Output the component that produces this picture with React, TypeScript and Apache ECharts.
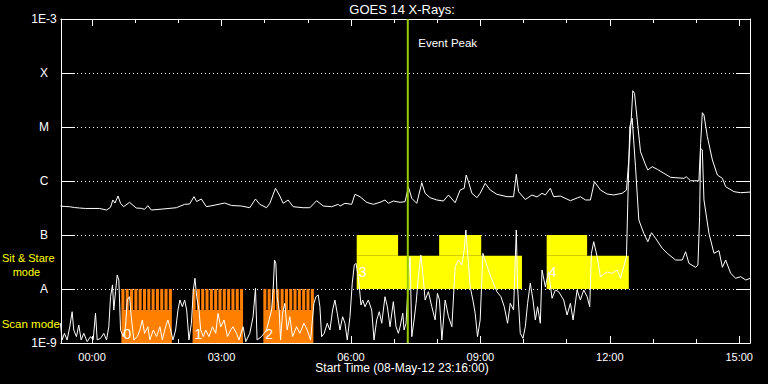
import React, { useEffect, useRef } from 'react';
import * as echarts from 'echarts';

// ---------- data (hours from 09-May-12 00:00, flux in W/m^2) ----------
const xMin = -0.72;
const xMax = 15.25;
const yMin = 1e-9;
const yMax = 1e-3;

const xMajorHours = [0, 3, 6, 9, 12, 15];
const xMajorLabels = ['00:00', '03:00', '06:00', '09:00', '12:00', '15:00'];
const xMinorHours = [0, 1, 2, 3, 4, 5, 6, 7, 8, 9, 10, 11, 12, 13, 14, 15];
const yTickExponents = [-9, -8, -7, -6, -5, -4, -3];
const yTickLabels = ['1E-9', 'A', 'B', 'C', 'M', 'X', '1E-3'];

const TITLE = 'GOES 14 X-Rays:';
const X_NAME = 'Start Time (08-May-12 23:16:00)';
const EVENT_LABEL = 'Event Peak';
const eventPeakHour = 7.318;

// 1-8 A channel
const longFlux: [number, number][] = [
  [-0.733, 3.44e-7], [-0.617, 3.37e-7], [-0.524, 3.34e-7], [-0.408, 3.23e-7], [-0.292, 3.16e-7], [-0.153, 3.1e-7],
  [0.172, 3.1e-7], [0.335, 2.9e-7], [0.428, 3.26e-7], [0.481, 4.45e-7], [0.532, 3.91e-7], [0.602, 5.27e-7],
  [0.66, 3.86e-7], [0.73, 3.34e-7], [0.869, 4.03e-7], [1.024, 3.16e-7], [1.141, 3.12e-7], [1.217, 2.99e-7],
  [1.294, 3.49e-7], [1.373, 2.9e-7], [1.642, 3.03e-7], [1.953, 3.2e-7], [2.146, 3.7e-7], [2.262, 3.75e-7],
  [2.362, 5.12e-7], [2.425, 4.17e-7], [2.534, 4.64e-7], [2.65, 3.34e-7], [2.803, 3.52e-7], [3.075, 3.91e-7],
  [3.231, 3.52e-7], [3.463, 3.44e-7], [3.656, 3.2e-7], [3.788, 4.64e-7], [3.888, 3.7e-7], [4.043, 3.2e-7],
  [4.12, 3.86e-7], [4.252, 7.33e-7], [4.352, 5.27e-7], [4.429, 3.86e-7], [4.545, 4.45e-7], [4.661, 3.34e-7],
  [4.893, 3.2e-7], [5.049, 3.2e-7], [5.204, 4.32e-7], [5.358, 3.44e-7], [5.553, 3.34e-7], [5.706, 3.7e-7],
  [5.746, 3.44e-7], [5.862, 3.86e-7], [6.017, 3.7e-7], [6.094, 5.67e-7], [6.21, 5.12e-7], [6.365, 4.03e-7],
  [6.519, 3.7e-7], [6.674, 4.03e-7], [6.79, 4.45e-7], [6.867, 3.86e-7], [6.983, 4.26e-7], [7.139, 4.03e-7],
  [7.255, 4.14e-7], [7.331, 7.84e-7], [7.41, 4.78e-7], [7.526, 3.86e-7], [7.643, 9.31e-7], [7.719, 5.92e-7],
  [7.835, 4.91e-7], [7.991, 4.45e-7], [8.144, 4.26e-7], [8.261, 5.51e-7], [8.416, 3.96e-7], [8.532, 6.81e-7],
  [8.625, 7.33e-7], [8.671, 1.29e-6], [8.725, 9.71e-7], [8.804, 5.92e-7], [8.92, 4.91e-7], [8.996, 5.92e-7],
  [9.112, 9.06e-7], [9.229, 6.81e-7], [9.384, 5.67e-7], [9.617, 5.12e-7], [9.77, 5.12e-7], [9.833, 1.33e-6],
  [9.886, 6.34e-7], [10.042, 4.54e-7], [10.197, 5.51e-7], [10.313, 5.06e-7], [10.429, 5.92e-7], [10.506, 5.51e-7],
  [10.622, 7.33e-7], [10.699, 5.12e-7], [10.854, 5.27e-7], [11.087, 4.32e-7], [11.319, 5.12e-7], [11.435, 4.45e-7],
  [11.551, 4.45e-7], [11.644, 9.71e-7], [11.783, 6.81e-7], [11.939, 5.74e-7], [12.092, 5.51e-7], [12.287, 5.92e-7],
  [12.387, 6.81e-7], [12.44, 2.45e-6], [12.496, 1.35e-5], [12.534, 4.7e-5], [12.573, 4.21e-5], [12.636, 1.35e-5],
  [12.712, 3.49e-6], [12.829, 1.98e-6], [12.882, 1.6e-6], [12.984, 1.84e-6], [13.1, 1.65e-6], [13.253, 1.39e-6],
  [13.409, 1.17e-6], [13.718, 1.12e-6], [13.773, 1.2e-6], [13.873, 1.01e-6], [14.066, 1.01e-6], [14.106, 4.99e-6],
  [14.145, 1.84e-5], [14.183, 1.67e-5], [14.262, 6.61e-6], [14.378, 2.45e-6], [14.494, 1.29e-6], [14.61, 1.12e-6],
  [14.686, 7.84e-7], [14.879, 6.34e-7], [15.034, 6.07e-7], [15.267, 6.25e-7],
];

// 0.5-4 A channel
const shortFlux: [number, number][] = [
  [-0.733, 2.32e-9], [-0.694, 1.14e-9], [-0.64, 1.51e-9], [-0.578, 1.14e-9], [-0.517, 2.0e-9], [-0.462, 3.8e-9],
  [-0.424, 1.74e-9], [-0.362, 1.31e-9], [-0.308, 2.15e-9], [-0.253, 1.14e-9], [-0.192, 1.51e-9], [-0.113, 1.06e-9],
  [-0.037, 1.31e-9], [0.026, 1.14e-9], [0.08, 3.55e-9], [0.119, 1.14e-9], [0.196, 1.22e-9], [0.272, 1.51e-9],
  [0.335, 1.14e-9], [0.388, 2.0e-9], [0.428, 7.2e-9], [0.474, 1.19e-8], [0.504, 4.08e-9], [0.544, 8.91e-9],
  [0.583, 1.82e-8], [0.621, 1.47e-8], [0.66, 1.74e-9], [0.723, 1.31e-9], [0.776, 2.0e-9], [0.816, 6.26e-9],
  [0.869, 7.2e-9], [0.908, 3.07e-9], [0.969, 1.14e-9], [1.048, 1.31e-9], [1.108, 1.74e-9], [1.164, 2.67e-9],
  [1.217, 1.51e-9], [1.294, 2.0e-9], [1.34, 1.14e-9], [1.419, 1.74e-9], [1.496, 1.31e-9], [1.573, 2.0e-9],
  [1.628, 1.14e-9], [1.705, 2.0e-9], [1.758, 2.67e-9], [1.821, 1.74e-9], [1.875, 1.14e-9], [1.937, 1.74e-9],
  [1.991, 4.08e-9], [2.037, 6.26e-9], [2.093, 4.7e-9], [2.146, 6.26e-9], [2.193, 4.08e-9], [2.246, 1.14e-9],
  [2.302, 2.32e-9], [2.348, 9.58e-9], [2.385, 1.58e-8], [2.425, 7.2e-9], [2.478, 4.08e-9], [2.518, 1.74e-9],
  [2.58, 1.31e-9], [2.634, 1.74e-9], [2.71, 1.31e-9], [2.79, 2.0e-9], [2.866, 1.51e-9], [2.92, 3.55e-9],
  [2.982, 2.0e-9], [3.059, 2.67e-9], [3.138, 1.31e-9], [3.214, 1.74e-9], [3.268, 2.0e-9], [3.347, 1.51e-9],
  [3.407, 1.14e-9], [3.5, 2.0e-9], [3.563, 1.06e-9], [3.656, 1.51e-9], [3.732, 3.07e-9], [3.788, 1.03e-8],
  [3.825, 1.14e-9], [3.927, 1.31e-9], [4.043, 1.74e-9], [4.104, 2.67e-9], [4.16, 4.08e-9], [4.197, 9.58e-9],
  [4.229, 3.44e-8], [4.26, 2.99e-8], [4.29, 7.2e-9], [4.336, 4.08e-9], [4.369, 1.14e-9], [4.415, 3.55e-9],
  [4.468, 5.43e-9], [4.522, 1.74e-9], [4.584, 3.07e-9], [4.647, 1.31e-9], [4.74, 2.0e-9], [4.817, 1.51e-9],
  [4.91, 2.32e-9], [4.986, 1.74e-9], [5.065, 1.14e-9], [5.142, 5.43e-9], [5.188, 7.2e-9], [5.242, 7.74e-9],
  [5.281, 4.7e-9], [5.321, 1.31e-9], [5.381, 1.51e-9], [5.451, 2.32e-9], [5.513, 1.74e-9], [5.576, 4.08e-9],
  [5.629, 6.26e-9], [5.683, 3.55e-9], [5.746, 1.74e-9], [5.808, 3.07e-9], [5.862, 2.32e-9], [5.915, 1.14e-9],
  [5.978, 3.07e-9], [6.031, 1.28e-8], [6.078, 2.78e-8], [6.117, 2.99e-8], [6.157, 1.95e-8], [6.194, 1.1e-8],
  [6.233, 5.05e-9], [6.272, 6.26e-9], [6.326, 4.7e-9], [6.403, 6.26e-9], [6.482, 4.08e-9], [6.535, 1.14e-9],
  [6.598, 2.67e-9], [6.658, 3.8e-9], [6.714, 2.32e-9], [6.79, 7.2e-9], [6.844, 4.7e-9], [6.907, 2.0e-9],
  [6.983, 5.82e-9], [7.046, 2.0e-9], [7.1, 1.51e-9], [7.139, 2.0e-9], [7.202, 3.55e-9], [7.232, 1.74e-9],
  [7.278, 2.32e-9], [7.332, 1.47e-8], [7.371, 3.96e-8], [7.411, 1.31e-9], [7.464, 2.67e-9], [7.51, 5.43e-9],
  [7.564, 1.69e-8], [7.62, 4.26e-8], [7.666, 1.95e-8], [7.72, 6.26e-9], [7.796, 8.91e-9], [7.875, 4.7e-9],
  [7.952, 2.67e-9], [8.005, 8.33e-9], [8.052, 6.26e-9], [8.108, 1.14e-9], [8.184, 6.26e-9], [8.261, 3.07e-9],
  [8.34, 2.0e-9], [8.416, 2.59e-8], [8.493, 3.44e-8], [8.571, 2.78e-8], [8.625, 5.27e-8], [8.664, 1.24e-7],
  [8.711, 3.96e-8], [8.764, 1.1e-8], [8.827, 6.26e-9], [8.88, 3.55e-9], [8.934, 1.31e-9], [8.996, 2.67e-9],
  [9.059, 4.58e-8], [9.135, 2.99e-8], [9.212, 1.95e-8], [9.305, 1.28e-8], [9.384, 8.91e-9], [9.477, 7.2e-9],
  [9.554, 4.7e-9], [9.631, 2.32e-9], [9.693, 5.43e-9], [9.77, 4.08e-9], [9.809, 3.44e-8], [9.833, 1.24e-7],
  [9.863, 1.1e-8], [9.925, 1.51e-9], [9.988, 1.22e-9], [10.042, 2.0e-9], [10.095, 5.43e-9], [10.157, 1.28e-8],
  [10.22, 6.26e-9], [10.274, 2.67e-9], [10.327, 4.7e-9], [10.39, 2.32e-9], [10.429, 2.25e-8], [10.506, 1.1e-8],
  [10.583, 2.09e-8], [10.662, 6.72e-9], [10.738, 9.58e-9], [10.815, 8.91e-9], [10.931, 6.26e-9], [11.01, 3.3e-9],
  [11.087, 5.43e-9], [11.149, 2.67e-9], [11.242, 9.58e-9], [11.319, 6.26e-9], [11.396, 9.58e-9], [11.475, 7.2e-9],
  [11.535, 4.7e-9], [11.574, 4.58e-8], [11.628, 7.52e-8], [11.707, 3.96e-8], [11.783, 1.69e-8], [11.939, 2.07e-8],
  [12.055, 1.95e-8], [12.171, 2.25e-8], [12.248, 1.58e-8], [12.324, 2.59e-8], [12.387, 3.96e-8], [12.417, 3.86e-7],
  [12.464, 1.01e-5], [12.519, 1.45e-5], [12.596, 1.84e-6], [12.673, 1.9e-7], [12.789, 1.07e-7], [12.882, 7.52e-8],
  [12.968, 1.1e-7], [13.061, 8.69e-8], [13.216, 5.67e-8], [13.332, 4.58e-8], [13.525, 3.44e-8], [13.68, 3.44e-8],
  [13.757, 4.91e-8], [13.834, 2.99e-8], [13.989, 2.52e-8], [14.043, 2.78e-8], [14.082, 2.18e-7], [14.106, 4.03e-6],
  [14.145, 3.75e-6], [14.183, 4.45e-7], [14.299, 1.07e-7], [14.415, 4.58e-8], [14.531, 5.12e-8], [14.61, 2.52e-8],
  [14.686, 3.44e-8], [14.802, 1.95e-8], [14.918, 1.58e-8], [15.034, 1.69e-8], [15.15, 1.47e-8], [15.267, 1.58e-8],
];

// Scan mode: three rasters, each with a run span and its individual steps
const scanFloor = 1e-9;
const scanSplit = 4.1e-9;
const scanTop = 1e-8;
const scanRuns: [number, number][] = [[0.68, 1.85], [2.33, 3.5], [3.97, 5.13]];
const scanRunLabels = ['0', '1', '2'];
const scanStepStarts = [
  0.68, 0.78, 0.88, 0.98, 1.08, 1.18, 1.28, 1.38, 1.48, 1.58, 1.68, 1.78,
  2.33, 2.43, 2.53, 2.63, 2.73, 2.83, 2.93, 3.03, 3.13, 3.23, 3.33, 3.43,
  3.97, 4.07, 4.17, 4.27, 4.37, 4.47, 4.57, 4.67, 4.77, 4.87, 4.97, 5.07,
];
const scanStepLength = 0.07;

// Sit & stare mode
const stareFloor = 1e-8;
const stareSplit = 4.14e-8;
const stareTop = 1e-7;
const stareRuns: [number, number][] = [[6.134, 9.965], [10.537, 12.441]];
const stareRunLabels = ['3', '4'];
const stareUpper: [number, number][] = [[6.134, 7.093], [8.045, 9.02], [10.537, 11.475]];

// ---------- styling ----------
const FONT = '"Liberation Sans", Arial, sans-serif';
const ORANGE = '#ff8000';
const YELLOW = '#ffff00';
const GREEN = '#99cc00';

function rectSeries(
  data: number[][],
  color: string,
  z: number,
  labels?: string[],
  labelMode?: 'bottom' | 'middle'
) {
  return {
    type: 'custom',
    z,
    silent: true,
    clip: true,
    data,
    encode: { x: [0, 1], y: [2, 3] },
    renderItem: (params: any, api: any) => {
      const a = api.coord([api.value(0), api.value(3)]);
      const b = api.coord([api.value(1), api.value(2)]);
      const children: any[] = [
        {
          type: 'rect',
          shape: { x: a[0], y: a[1], width: b[0] - a[0], height: b[1] - a[1] },
          style: { fill: color },
        },
      ];
      const label = labels ? labels[params.dataIndex] : undefined;
      if (label) {
        children.push({
          type: 'text',
          x: a[0] + 2,
          y: labelMode === 'middle' ? (a[1] + b[1]) / 2 : b[1] - 9.5,
          z2: 10,
          style: {
            text: label,
            fill: '#ffffff',
            font: `14px ${FONT}`,
            align: 'left',
            verticalAlign: 'middle',
            textAlign: 'left',
            textVerticalAlign: 'middle',
          },
        });
      }
      return { type: 'group', children };
    },
  };
}

function xAxisDef(position: 'top' | 'bottom', ticks: number[], len: number, withLabels: boolean) {
  return {
    type: 'value',
    min: xMin,
    max: xMax,
    position,
    axisLine: { show: true, onZero: false, lineStyle: { color: '#ffffff', width: 1 } },
    axisTick: { show: true, inside: true, length: len, customValues: ticks, lineStyle: { color: '#ffffff', width: 1 } },
    axisLabel: withLabels
      ? {
          show: true,
          customValues: xMajorHours,
          formatter: (v: number) => {
            const i = xMajorHours.findIndex((h) => Math.abs(h - v) < 1e-6);
            return i >= 0 ? xMajorLabels[i] : '';
          },
          color: '#ffffff',
          fontFamily: FONT,
          fontSize: 11,
          margin: 8,
        }
      : { show: false },
    splitLine: { show: false },
  };
}

export default function App() {
  const ref = useRef<HTMLDivElement>(null);

  useEffect(() => {
    document.body.style.margin = '0';
    document.body.style.background = '#000';
    if (!ref.current) return;
    const chart = echarts.init(ref.current, undefined, { renderer: 'svg' });

    const scanSteps = scanStepStarts.map((s) => [s, s + scanStepLength, scanSplit, scanTop]);
    const scanRows = scanRuns.map((r) => [r[0], r[1], scanFloor, scanSplit]);
    const stareRows = stareRuns.map((r) => [r[0], r[1], stareFloor, stareSplit]);
    const stareTops = stareUpper.map((r) => [r[0], r[1], stareSplit, stareTop]);

    const yText = (text: string, x: number, y: number, size: number) => ({
      type: 'text',
      x,
      y,
      style: {
        text,
        fill: YELLOW,
        font: `${size}px ${FONT}`,
        align: 'left',
        verticalAlign: 'middle',
        textAlign: 'left',
        textVerticalAlign: 'middle',
      },
    });

    const option: any = {
      animation: false,
      backgroundColor: '#000000',
      grid: { left: 61, top: 19, width: 689, height: 324, outerBoundsMode: 'none', containLabel: false },
      xAxis: [
        xAxisDef('bottom', xMajorHours, 7, true),
        xAxisDef('bottom', xMinorHours, 4, false),
        xAxisDef('top', xMajorHours, 7, false),
        xAxisDef('top', xMinorHours, 4, false),
      ],
      yAxis: [
        {
          type: 'log',
          logBase: 10,
          min: yMin,
          max: yMax,
          position: 'left',
          axisLine: { show: true, onZero: false, lineStyle: { color: '#ffffff', width: 1 } },
          axisTick: { show: true, inside: true, length: 14, lineStyle: { color: '#ffffff', width: 1 } },
          axisLabel: {
            show: true,
            color: '#ffffff',
            fontFamily: FONT,
            fontSize: 12,
            align: 'center',
            margin: 17,
            verticalAlignMaxLabel: 'top',
            formatter: (v: number) => {
              const e = Math.round(Math.log10(v));
              const i = yTickExponents.indexOf(e);
              return i >= 0 ? yTickLabels[i] : '';
            },
          },
          splitLine: { show: true, lineStyle: { color: '#ffffff', width: 1, type: [1, 3] } },
        },
        {
          type: 'log',
          logBase: 10,
          min: yMin,
          max: yMax,
          position: 'right',
          axisLine: { show: true, onZero: false, lineStyle: { color: '#ffffff', width: 1 } },
          axisTick: { show: true, inside: true, length: 14, lineStyle: { color: '#ffffff', width: 1 } },
          axisLabel: { show: false },
          splitLine: { show: false },
        },
      ],
      series: [
        rectSeries(scanRows, ORANGE, 1, scanRunLabels, 'bottom'),
        rectSeries(scanSteps, ORANGE, 1),
        rectSeries(stareRows, YELLOW, 1, stareRunLabels, 'middle'),
        rectSeries(stareTops, YELLOW, 1),
        {
          type: 'line',
          data: shortFlux,
          symbol: 'none',
          showSymbol: false,
          clip: true,
          z: 3,
          lineStyle: { color: '#ffffff', width: 1 },
        },
        {
          type: 'line',
          data: longFlux,
          symbol: 'none',
          showSymbol: false,
          clip: true,
          z: 3,
          lineStyle: { color: '#ffffff', width: 1 },
        },
        {
          type: 'custom',
          z: 5,
          silent: true,
          data: [[eventPeakHour, yMin, yMax]],
          encode: { x: 0, y: [1, 2] },
          renderItem: (params: any, api: any) => {
            const top = api.coord([api.value(0), api.value(2)]);
            const bottom = api.coord([api.value(0), api.value(1)]);
            return {
              type: 'group',
              children: [
                {
                  type: 'line',
                  shape: { x1: top[0], y1: top[1], x2: bottom[0], y2: bottom[1] },
                  style: { stroke: GREEN, lineWidth: 2 },
                },
                {
                  type: 'text',
                  x: top[0] + 10.5,
                  y: top[1] + 24,
                  style: {
                    text: EVENT_LABEL,
                    fill: '#ffffff',
                    font: `11.5px ${FONT}`,
                    align: 'left',
                    verticalAlign: 'middle',
                    textAlign: 'left',
                    textVerticalAlign: 'middle',
                  },
                },
              ],
            };
          },
        },
      ],
      graphic: [
        {
          type: 'text',
          x: 402,
          y: 9.5,
          style: {
            text: TITLE,
            fill: '#ffffff',
            font: `13px ${FONT}`,
            align: 'center',
            verticalAlign: 'middle',
            textAlign: 'center',
            textVerticalAlign: 'middle',
          },
        },
        {
          type: 'text',
          x: 402,
          y: 368,
          style: {
            text: X_NAME,
            fill: '#ffffff',
            font: `12px ${FONT}`,
            align: 'center',
            verticalAlign: 'middle',
            textAlign: 'center',
            textVerticalAlign: 'middle',
          },
        },
        yText('Sit & Stare', 2, 257.5, 11),
        yText('mode', 12.7, 271.5, 11),
        yText('Scan mode', 1.7, 324, 11.5),
      ],
    };

    chart.setOption(option);
    return () => {
      chart.dispose();
    };
  }, []);

  return (
    <div
      ref={ref}
      style={{ position: 'fixed', left: 0, top: 0, width: 768, height: 384, background: '#000' }}
    />
  );
}
